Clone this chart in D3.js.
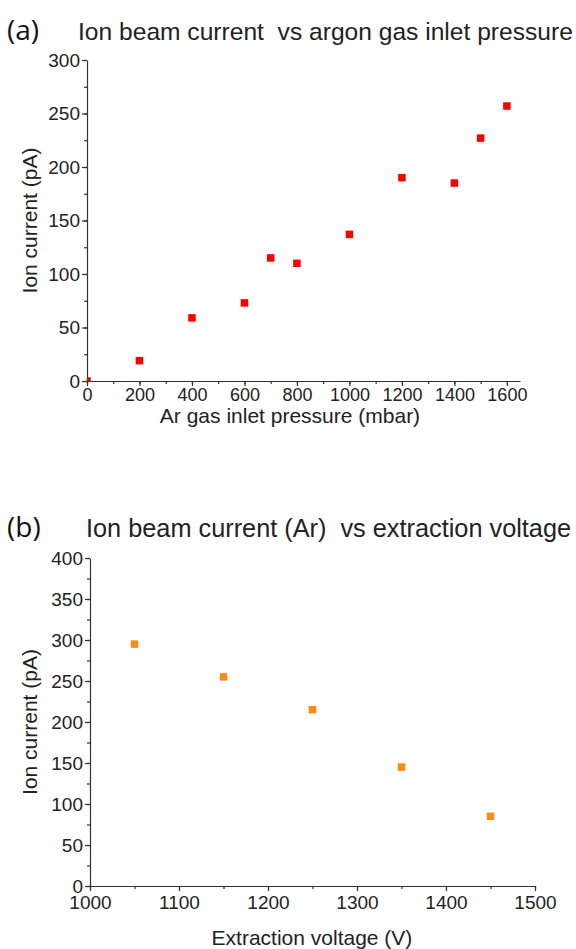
<!DOCTYPE html>
<html>
<head>
<meta charset="utf-8">
<script src="https://cdn.jsdelivr.net/npm/d3@7"></script>
<style>
  body { margin: 0; background: #fff; }
  svg { display: block; }
  .tick text { font-family: "Liberation Sans", Arial, sans-serif; }
</style>
</head>
<body>
<div id="chart"></div>
<script>
// panel (a) data
var pressure = [0, 200, 400, 600, 700, 800, 1000, 1200, 1400, 1500, 1600];
var currentA = [0, 19, 59, 73, 115, 110, 137, 190, 185, 227, 257];

// panel (b) data
var voltage = [1050, 1150, 1250, 1350, 1450];
var currentB = [295, 255, 215, 145, 85];

var W = 576, H = 949;
var font = "'Liberation Sans', Arial, sans-serif";

var svg = d3.select("#chart")
  .append("svg")
    .attr("width", W)
    .attr("height", H);

function drawPanel(opt) {
  var g = svg.append("g");

  var x = d3.scaleLinear().domain(opt.xDomain).range([opt.left, opt.right]);
  var y = d3.scaleLinear().domain(opt.yDomain).range([opt.bottom, opt.top]);

  // minor ticks (no labels)
  g.append("g")
    .attr("transform", "translate(0," + opt.bottom + ")")
    .call(d3.axisBottom(x).tickValues(d3.range(opt.xDomain[0], opt.xDomain[1] + 1, opt.xMinor)).tickSize(3).tickFormat(""))
    .call(function(a) { a.select(".domain").remove(); a.selectAll("text").remove(); });
  g.append("g")
    .attr("transform", "translate(" + opt.left + ",0)")
    .call(d3.axisLeft(y).tickValues(d3.range(opt.yDomain[0], opt.yDomain[1] + 1, opt.yMinor)).tickSize(3).tickFormat(""))
    .call(function(a) { a.select(".domain").remove(); a.selectAll("text").remove(); });

  // major ticks + labels
  var xa = g.append("g")
    .attr("transform", "translate(0," + opt.bottom + ")")
    .call(d3.axisBottom(x).tickValues(opt.xTicks).tickSize(5).tickSizeOuter(0).tickPadding(opt.xPad).tickFormat(d3.format("d")));
  xa.selectAll("text").style("font-size", opt.tickFont).attr("fill", "#222");
  var ya = g.append("g")
    .attr("transform", "translate(" + opt.left + ",0)")
    .call(d3.axisLeft(y).tickValues(opt.yTicks).tickSize(5).tickSizeOuter(0).tickPadding(2).tickFormat(d3.format("d")));
  ya.selectAll("text").style("font-size", "19px").attr("fill", "#222");
  g.selectAll(".domain, .tick line").attr("stroke", "#333").attr("stroke-width", 1.2);

  // clip so the point at origin is cut by the axes
  var clipId = "clip" + opt.id;
  svg.append("clipPath").attr("id", clipId)
    .append("rect")
      .attr("x", opt.left).attr("y", opt.top - 10)
      .attr("width", opt.right - opt.left + 10)
      .attr("height", opt.bottom - opt.top + 10);

  var s = 7.5;
  g.append("g").attr("clip-path", "url(#" + clipId + ")")
    .selectAll("rect")
    .data(opt.xs)
    .enter().append("rect")
      .attr("x", function(d) { return x(d) - s / 2; })
      .attr("y", function(d, i) { return y(opt.ys[i]) - s / 2; })
      .attr("width", s)
      .attr("height", s)
      .attr("fill", opt.color);

  // labels
  svg.append("text")
    .attr("x", 7).attr("y", opt.titleY)
    .style("font-family", "'Open Sans', 'Noto Sans', sans-serif")
    .style("font-size", "28px")
    .attr("fill", "#111")
    .text(opt.tag);
  svg.append("text")
    .attr("x", opt.titleX).attr("y", opt.titleY)
    .style("font-family", font)
    .style("font-size", opt.titleFont)
    .style("white-space", "pre")
    .attr("fill", "#222")
    .text(opt.title);
  svg.append("text")
    .attr("x", opt.xLabelX).attr("y", opt.xLabelY)
    .attr("text-anchor", "middle")
    .style("font-family", font)
    .style("font-size", "21px")
    .attr("fill", "#222")
    .text(opt.xLabel);
  svg.append("text")
    .attr("transform", "translate(37," + (opt.top + opt.bottom) / 2 + ") rotate(-90)")
    .attr("text-anchor", "middle")
    .style("font-family", font)
    .style("font-size", "21px")
    .attr("fill", "#222")
    .text("Ion current (pA)");
}

drawPanel({
  id: "a",
  xs: pressure, ys: currentA, color: "#ff0000",
  xDomain: [0, 1650], yDomain: [0, 300],
  left: 87, right: 520, top: 60, bottom: 381,
  xTicks: d3.range(0, 1601, 200), xMinor: 100, tickFont: "18px", xPad: 2,
  yTicks: d3.range(0, 301, 50), yMinor: 25,
  tag: "(a)", title: "Ion beam current  vs argon gas inlet pressure",
  titleX: 78, titleY: 40, titleFont: "24.6px",
  xLabel: "Ar gas inlet pressure (mbar)", xLabelX: 290, xLabelY: 423
});

drawPanel({
  id: "b",
  xs: voltage, ys: currentB, color: "#ff8a14",
  xDomain: [1000, 1500], yDomain: [0, 400],
  left: 90, right: 535, top: 558, bottom: 886,
  xTicks: d3.range(1000, 1501, 100), xMinor: 50, tickFont: "19px", xPad: 5,
  yTicks: d3.range(0, 401, 50), yMinor: 25,
  tag: "(b)", title: "Ion beam current (Ar)  vs extraction voltage",
  titleX: 86, titleY: 537, titleFont: "25.3px",
  xLabel: "Extraction voltage (V)", xLabelX: 312, xLabelY: 945
});
</script>
</body>
</html>
